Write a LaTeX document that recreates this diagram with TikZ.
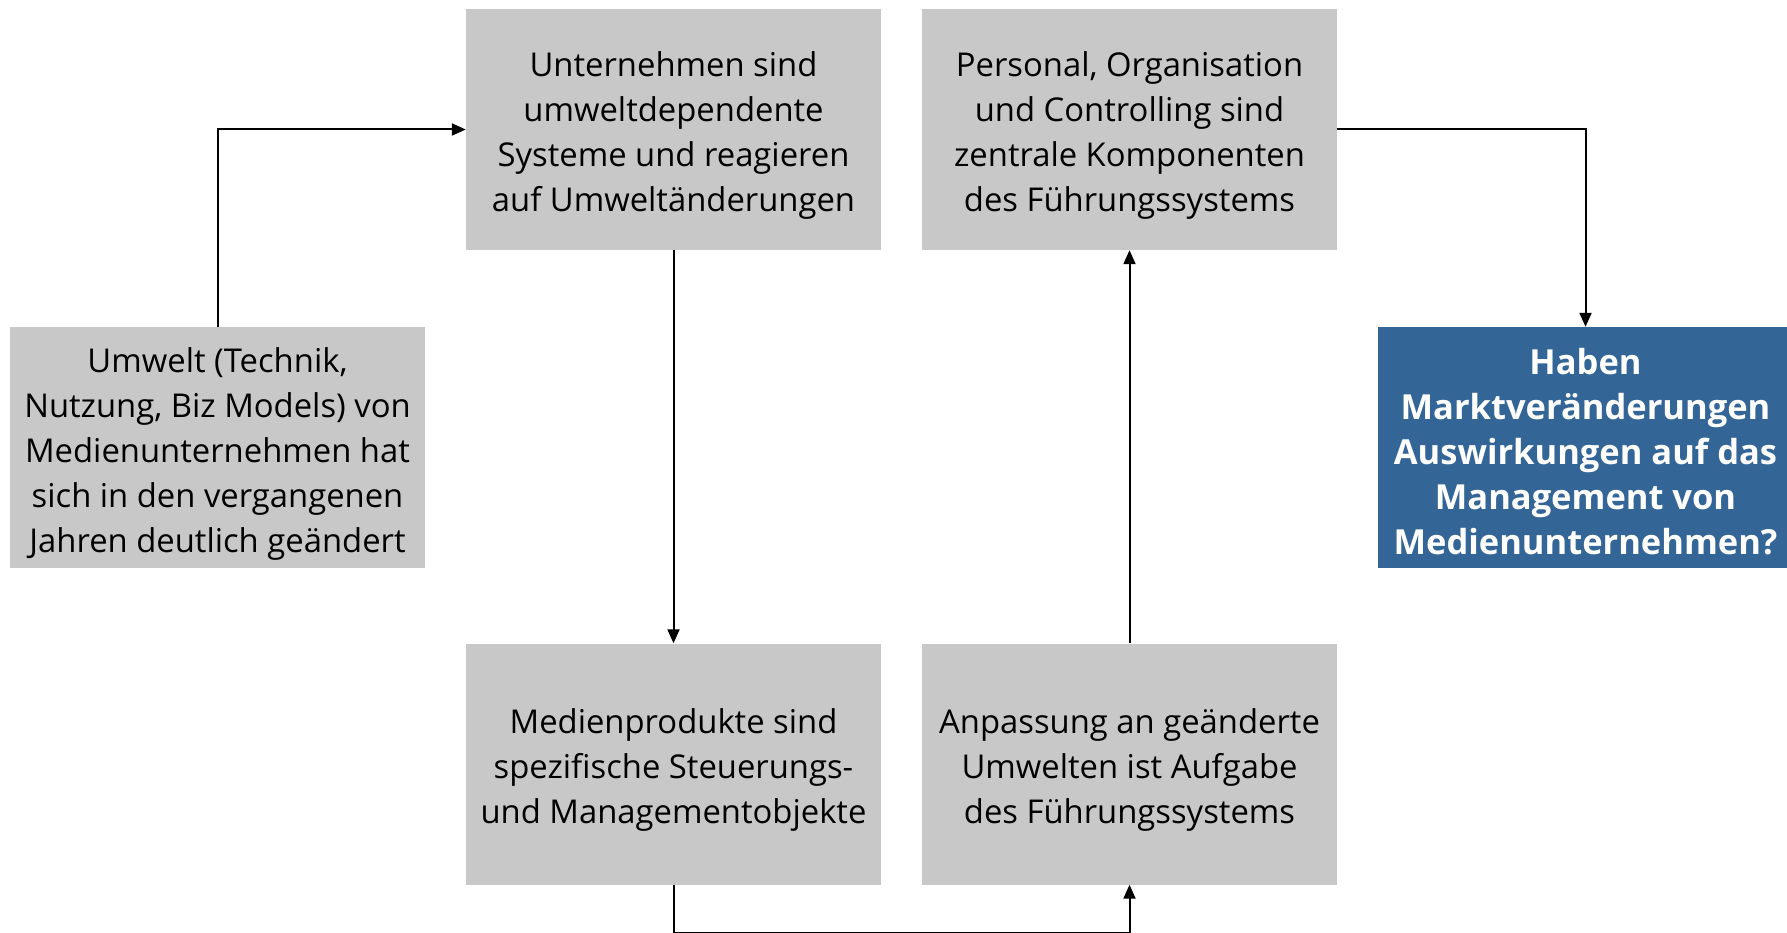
\documentclass[tikz,border=0pt]{standalone}
\usepackage{fontspec}
\setmainfont{Open Sans}
\usetikzlibrary{arrows.meta}
\definecolor{boxgrey}{RGB}{200,200,200}
\definecolor{boxblue}{RGB}{51,101,150}
\begin{document}
\begin{tikzpicture}[x=1pt,y=-1pt,
  box/.style={fill=boxgrey, minimum width=415pt, minimum height=241pt, inner sep=0pt},
  qbox/.style={box, fill=boxblue},
  txt/.style={align=center, inner sep=0pt, text=black, yshift=-6pt, font=\fontsize{32.8}{45}\selectfont},
  qtxt/.style={align=center, inner sep=0pt, text=white, yshift=-4pt, font=\fontsize{34.5}{45}\selectfont\bfseries},
  arr/.style={line width=2pt, -{Triangle[length=14pt,width=12pt]}}]
\useasboundingbox (0,0) rectangle (1787,933);
\node[box, label={[name=At, txt]center:{Unternehmen sind\\umweltdependente\\Systeme und reagieren\\auf Umweltänderungen}}] (A) at (673.5,129.5) {};
\node[box, label={[name=Bt, txt]center:{Personal, Organisation\\und Controlling sind\\zentrale Komponenten\\des Führungssystems}}] (B) at (1129.5,129.5) {};
\node[box, label={[name=Ct, txt]center:{Umwelt (Technik,\\Nutzung, Biz Models) von\\Medienunternehmen hat\\sich in den vergangenen\\Jahren deutlich geändert}}] (C) at (217.5,447.5) {};
\node[qbox, label={[name=Dt, qtxt]center:{Haben\\Marktveränderungen\\Auswirkungen auf das\\Management von\\Medienunternehmen?}}] (D) at (1585.5,447.5) {};
\node[box, label={[name=Et, txt]center:{Medienprodukte sind\\spezifische Steuerungs-\\und Managementobjekte}}] (E) at (673.5,764) {};
\node[box, label={[name=Ft, txt]center:{Anpassung an geänderte\\Umwelten ist Aufgabe\\des Führungssystems}}] (F) at (1129.5,764) {};
\draw[arr] (C.north) |- (A.west);
\draw[arr] (A.south) -- (E.north);
\draw[arr] (E.south) -- ++(0,48) -| (F.south);
\draw[arr] (F.north) -- (B.south);
\draw[arr] (B.east) -| (D.north);
\end{tikzpicture}
\end{document}
